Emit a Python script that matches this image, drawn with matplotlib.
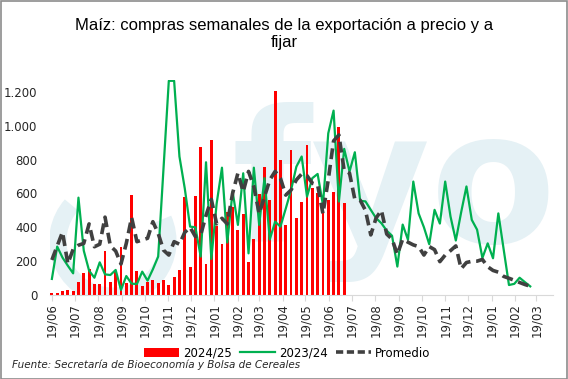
import pandas as pd
import numpy as np
import matplotlib.pyplot as plt
from matplotlib.patches import Arc, Patch, Rectangle
from matplotlib.lines import Line2D

# ---------------------------------------------------------
# Weekly data (thousand tonnes)
# ---------------------------------------------------------

start_date = '2024-06-19'

campana_2024_25 = [
    10, 12, 22, 28, 24, 77, 130, 154, 63, 63,
    260, 77, 142, 284, 71, 592, 142, 53, 79, 89,
    73, 89, 59, 107, 148, 576, 166, 586, 875, 184,
    918, 405, 300, 489, 518, 382, 480, 193, 329, 597,
    755, 560, 1206, 796, 412, 855, 453, 550, 885, 630,
    605, 540, 560, 607, 991, 544
]

campana_2023_24 = [
    95, 286, 221, 173, 128, 575, 262, 144, 102, 193,
    122, 118, 148, 30, 112, 67, 65, 138, 85, 152,
    227, 746, 1265, 1265, 818, 630, 404, 400, 227, 784,
    213, 540, 752, 310, 611, 414, 719, 246, 752, 414,
    690, 328, 433, 404, 510, 620, 758, 818, 581, 690,
    715, 532, 955, 1089, 552, 863, 729, 843, 556, 553,
    503, 454, 424, 380, 350, 168, 416, 326, 670, 482,
    400, 300, 503, 422, 670, 464, 322, 488, 641, 444,
    386, 219, 305, 217, 482, 270, 59, 66, 102, 76,
    51
]

promedio = [
    207, 290, 372, 185, 270, 294, 305, 420, 285, 300,
    460, 290, 260, 183, 305, 458, 315, 325, 335, 433,
    364, 265, 236, 315, 300, 370, 400, 345, 355, 470,
    565, 420, 453, 420, 600, 720, 610, 730, 640, 480,
    580, 680, 730, 690, 590, 620, 680, 715, 705, 660,
    650, 480, 680, 910, 945, 735, 720, 565, 560, 500,
    355, 455, 500, 360, 330, 240, 330, 312, 296, 286,
    236, 286, 268, 197, 236, 262, 290, 155, 192, 199,
    200, 210, 167, 145, 135, 110, 99, 87, 74, 62,
    52
]

y_ticks = [0, 200, 400, 600, 800, 1000, 1200]

# ---------------------------------------------------------
# Dates
# ---------------------------------------------------------

fechas_barras = pd.date_range(start_date, periods=len(campana_2024_25), freq='7D')
fechas_lineas = pd.date_range(start_date, periods=len(campana_2023_24), freq='7D')
fechas_prom = pd.date_range(start_date, periods=len(promedio), freq='7D')

month_ticks = [pd.Timestamp(start_date) + pd.DateOffset(months=i) for i in range(22)]

# ---------------------------------------------------------
# Figure
# ---------------------------------------------------------

fig = plt.figure(figsize=(5.68, 3.79), dpi=100)
ax = fig.add_axes([0.088, 0.2216, 0.8856, 0.5674])

# watermark (fyo logo, light blue)
wm_color = '#e5f1f5'
ax.add_patch(Arc((0.125, 0.25), 110 / 503, 110 / 215, theta1=116, theta2=406,
                 lw=12.5, color=wm_color, transform=ax.transAxes, zorder=0))
ax.text((232 - 50) / 503, (295 - 242) / 215, 'fyo', transform=ax.transAxes,
        fontsize=132, fontweight='bold', color=wm_color,
        ha='left', va='baseline', zorder=0, clip_on=True)

ax.bar(
    fechas_barras,
    campana_2024_25,
    width=3.8,
    color='#ff0000',
    zorder=2
)

ax.plot(
    fechas_lineas,
    campana_2023_24,
    color='#00b050',
    linewidth=1.6,
    zorder=3
)

ax.plot(
    fechas_prom,
    promedio,
    color='#404040',
    linewidth=2.6,
    linestyle=(0, (3, 1.6)),
    zorder=4
)

ax.set_xlim(pd.Timestamp(start_date) - pd.Timedelta(days=2.5),
            pd.Timestamp(start_date) + pd.Timedelta(days=660))
ax.set_ylim(0, 1270)

ax.set_yticks(y_ticks)
ax.set_yticklabels([f"{v:,}".replace(',', '.') for v in y_ticks])
ax.set_xticks(month_ticks)
ax.set_xticklabels([d.strftime('%d/%m') for d in month_ticks], rotation=90)

ax.tick_params(axis='y', length=0, labelsize=8.5, pad=9, colors='#262626')
ax.tick_params(axis='x', length=4, width=0.8, color='#d9d9d9',
               labelsize=8.5, pad=2, labelcolor='#262626')

for side in ['top', 'right', 'left']:
    ax.spines[side].set_visible(False)
ax.spines['bottom'].set_color('#d9d9d9')

# title
fig.text(
    0.5, 0.91,
    "Maíz: compras semanales de la exportación a precio y a\nfijar",
    ha='center', va='center',
    fontsize=12, linespacing=1.2,
    family=['Liberation Sans', 'DejaVu Sans'],
    color='#000000'
)

# legend
handles = [
    Patch(facecolor='#ff0000', edgecolor='none', label='2024/25'),
    Line2D([0], [0], color='#00b050', linewidth=1.6, label='2023/24'),
    Line2D([0], [0], color='#404040', linewidth=2.6, linestyle=(0, (2, 1)), label='Promedio'),
]
fig.legend(
    handles=handles,
    loc='center',
    bbox_to_anchor=(0.505, 0.068),
    ncol=3,
    frameon=False,
    fontsize=8.5,
    handlelength=3.0,
    handleheight=0.85,
    handletextpad=0.3,
    columnspacing=0.7
)

# source
fig.text(
    0.022, 0.025,
    "Fuente: Secretaría de Bioeconomía y Bolsa de Cereales",
    ha='left', va='bottom',
    fontsize=7.5, style='italic', color='#262626'
)

# outer border
fig.add_artist(Rectangle((0.001, 0.001), 0.997, 0.997, transform=fig.transFigure,
                         fill=False, edgecolor='#8c8c8c', linewidth=1.2))

fig.savefig('out.png', dpi=100)
